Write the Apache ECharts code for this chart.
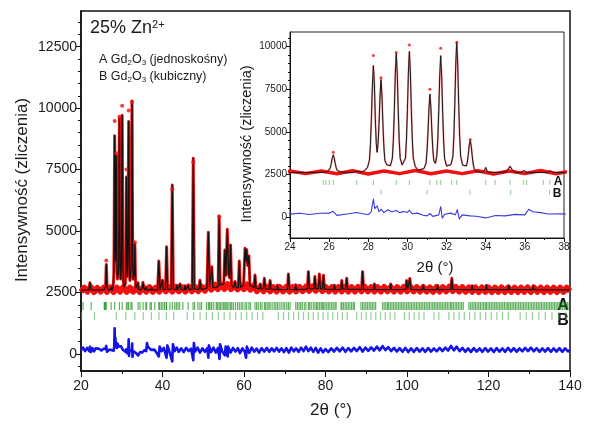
<!DOCTYPE html>
<html><head><meta charset="utf-8">
<script src="https://cdn.jsdelivr.net/npm/echarts@6/dist/echarts.min.js"></script>
<style>html,body{margin:0;padding:0;background:#fff}#c{width:600px;height:426px}</style>
</head><body><div id="c"></div><script>
// ---------- DATA ----------
// calculated profile [2theta, counts]
const calc = [
[20.0,2600],[21.9,2610],[22.2,2900],[22.5,2610],[24.0,2600],[25.0,2610],
[25.76,2621],[25.91,2652],[26.01,2725],[26.06,2881],[26.11,3141],[26.16,3463],[26.21,3640],[26.26,3463],[26.31,3141],[26.36,2881],[26.41,2725],[26.51,2652],[26.66,2621],
[27.2,2605],[27.31,2660],[27.41,2720],[27.51,2660],[27.62,2605],
[27.81,2722],[27.96,2906],[28.06,3335],[28.11,4253],[28.16,5783],[28.21,7680],[28.26,8880],[28.31,7891],[28.36,5700],[28.41,4300],[28.45,3800],[28.50,4300],[28.55,5500],[28.60,7100],[28.65,8070],
[28.70,7100],[28.75,5350],[28.80,4050],[28.85,3300],[28.95,3050],[29.05,3000],[29.13,3010],[29.23,3440],[29.28,4490],[29.33,6240],[29.38,8410],[29.43,9610],[29.48,8410],[29.53,6240],[29.58,4490],[29.63,3440],[29.73,3050],
[29.80,2980],[29.90,3453],[29.95,4520],[30.00,6297],[30.05,8501],[30.10,9710],[30.15,8501],[30.20,6297],[30.25,4520],[30.30,3453],[30.40,2955],[30.55,2742],[30.65,2720],
[30.85,2840],[30.95,3150],[31.00,3830],[31.05,4960],[31.10,6360],[31.15,7200],[31.20,6380],[31.25,5000],[31.30,3900],[31.35,3300],[31.43,3150],
[31.50,3572],[31.55,4530],[31.60,6200],[31.65,8280],[31.70,9460],[31.75,8280],[31.80,6160],[31.85,4460],[31.90,3420],[32.00,2990],[32.10,2950],
[32.22,3064],[32.32,3522],[32.37,4674],[32.42,6594],[32.47,8974],[32.52,10290],[32.57,8974],[32.62,6594],[32.67,4674],[32.72,3560],[32.82,3040],[32.91,2960],
[33.01,2990],[33.06,3218],[33.11,3668],[33.16,4230],[33.21,4500],[33.26,4160],[33.31,3578],[33.36,3108],[33.41,2826],[33.51,2694],[33.66,2638],
[33.85,2615],[33.90,2636],[33.95,2756],[34.00,2900],[34.05,2756],[34.10,2636],[34.20,2615],[34.60,2605],
[35.04,2644],[35.09,2700],[35.14,2792],[35.19,2907],[35.24,2970],[35.29,2907],[35.34,2792],[35.39,2700],[35.44,2644],[35.60,2610],
[35.80,2610],[35.90,2660],[35.95,2720],[36.00,2660],[36.10,2610],[37.15,2610],[37.30,2710],[37.45,2610],
[38.8,2610],[39.1,3780],[39.4,2610],[39.8,2620],[40.0,3000],[40.2,2620],[40.75,2630],[41.0,4360],[41.25,2630],
[42.15,2640],[42.4,6870],[42.65,2640],[43.3,2610],[43.5,2800],[43.7,2610],[44.1,2620],[44.3,2850],[44.5,2620],[45.3,2610],[45.5,2780],[45.7,2610],[46.1,2610],[46.3,2800],[46.5,2620],
[47.3,2650],[47.55,7960],[47.8,2650],[48.9,2620],[49.2,3000],[49.5,2620],
[50.9,2680],[51.25,4950],[51.55,2750],[51.85,2750],[52.1,3550],[52.35,2720],[53.0,2700],[53.65,2750],[53.9,5610],[54.15,2800],
[55.05,2850],[55.3,4230],[55.55,3200],[55.9,5070],[56.2,3300],[56.45,3100],[56.7,4430],[56.95,2800],[57.5,2700],[57.8,2950],[58.1,2700],
[58.6,2700],[58.85,3780],[59.1,2720],[59.9,2800],[60.25,4300],[60.45,3800],[60.65,4250],[60.9,3600],[61.2,3990],[61.45,2800],
[62.45,2700],[62.7,3210],[62.95,2680],[63.8,2650],[64.0,2850],[64.2,2650],[64.75,2650],[65.0,3080],[65.25,2650],[66.15,2640],[66.4,2990],[66.65,2640],
[68.0,2620],[68.2,2800],[68.4,2620],[70.65,2630],[70.9,3250],[71.15,2630],[72.5,2620],[72.7,2820],[72.9,2620],
[75.55,2640],[75.8,3350],[76.05,2650],[77.15,2660],[77.4,3150],[77.65,2660],[78.25,2660],[78.5,3250],[78.75,2660],[79.25,2650],[79.5,3200],[79.75,2640],
[82.0,2620],[82.2,2800],[82.4,2620],[83.75,2630],[84.0,2990],[84.25,2640],[84.95,2640],[85.2,3080],[85.45,2630],
[88.85,2630],[89.1,3350],[89.35,2630],[91.8,2620],[92.0,2850],[92.2,2620],[95.8,2620],[96.0,2850],[96.2,2620],
[99.65,2630],[99.9,2990],[100.15,2640],[100.45,2640],[100.7,3070],[100.95,2630],[103.8,2620],[104.0,2800],[104.2,2620],
[107.3,2620],[107.5,2800],[107.7,2620],[110.75,2630],[111.0,3080],[111.25,2630],[115.8,2620],[116.0,2780],[116.2,2620],
[119.3,2620],[119.5,2800],[119.7,2620],[124.8,2620],[125.0,2780],[125.2,2620],[130.8,2620],[131.0,2780],[131.2,2620],[140.0,2610]
];
// noisy background band of the observed data
const obsNoise = [
[20.0,2530],[20.8,2700],[21.6,2540],[22.4,2720],[23.2,2520],[24.0,2690],[24.8,2540],[25.6,2700],[26.4,2530],[27.2,2710],[28.0,2520],[28.8,2700],
[29.6,2540],[30.4,2720],[31.2,2530],[32.0,2700],[32.8,2540],[33.6,2710],[34.4,2520],[35.2,2700],[36.0,2540],[36.8,2720],[37.6,2530],[38.4,2700],
[39.2,2540],[40.0,2730],[40.8,2550],[41.6,2720],[42.4,2540],[43.2,2730],[44.0,2550],[44.8,2720],[45.6,2540],[46.4,2740],[47.2,2550],[48.0,2730],
[48.8,2560],[49.6,2740],[50.4,2580],[51.2,2800],[52.0,2620],[52.8,2820],[53.6,2640],[54.4,2830],[55.2,2650],[56.0,2840],[56.8,2640],[57.6,2820],
[58.4,2630],[59.2,2810],[60.0,2640],[60.8,2830],[61.6,2620],[62.4,2780],[63.2,2560],[64.0,2740],[64.8,2550],[65.6,2730],[66.4,2550],[67.2,2720],
[68.0,2540],[68.8,2720],[69.6,2550],[70.4,2730],[71.2,2540],[72.0,2720],[72.8,2550],[73.6,2730],[74.4,2560],[75.2,2740],[76.0,2570],[76.8,2750],
[77.6,2570],[78.4,2750],[79.2,2560],[80.0,2730],[80.8,2550],[81.6,2720],[82.4,2540],[83.2,2720],[84.0,2550],[84.8,2730],[85.6,2540],[86.4,2720],
[87.2,2540],[88.0,2730],[88.8,2550],[89.6,2740],[90.4,2550],[91.2,2720],[92.0,2540],[92.8,2720],[93.6,2540],[94.4,2730],[95.2,2550],[96.0,2720],
[96.8,2540],[97.6,2720],[98.4,2540],[99.2,2730],[100.0,2550],[100.8,2740],[101.6,2550],[102.4,2720],[103.2,2540],[104.0,2720],[104.8,2540],[105.6,2710],
[106.4,2530],[107.2,2720],[108.0,2540],[108.8,2720],[109.6,2550],[110.4,2740],[111.2,2560],[112.0,2730],[112.8,2540],[113.6,2720],[114.4,2530],[115.2,2710],
[116.0,2530],[116.8,2710],[117.6,2520],[118.4,2710],[119.2,2530],[120.0,2700],[120.8,2520],[121.6,2700],[122.4,2530],[123.2,2710],[124.0,2520],[124.8,2700],
[125.6,2530],[126.4,2700],[127.2,2520],[128.0,2700],[128.8,2530],[129.6,2710],[130.4,2520],[131.2,2700],[132.0,2530],[132.8,2700],[133.6,2520],[134.4,2700],
[135.2,2530],[136.0,2700],[136.8,2520],[137.6,2700],[138.4,2530],[139.2,2700],[140.0,2560]
];
// observed points standing above the calculated peaks
const obsPeakPoints = [[26.21,3800],[28.26,9480],[28.65,8170],[29.43,9650],[30.10,10100],[31.15,7500],[31.70,9900],[32.52,10250],[33.21,4550],[42.4,6700],[47.55,7800],[53.9,5580]];
// difference curve (obs - calc, offset)
const difference = [
[20,150],[20.5,260],[21,120],[21.5,250],[22,120],[22.2,300],[22.4,80],[22.8,240],[23.2,110],[23.6,230],[24,160],[24.5,210],[25,140],[25.5,210],
[26.0,220],[26.2,330],[26.4,90],[27,180],[27.4,260],
[28.0,130],[28.15,300],[28.26,1050],[28.33,480],[28.45,650],[28.55,300],[28.65,450],[28.8,250],[29.0,420],[29.2,300],[29.43,380],[29.6,250],
[29.8,320],[30.0,260],[30.1,380],[30.25,180],[30.5,220],[30.8,100],[31.0,60],[31.15,200],[31.3,30],[31.6,120],[31.7,600],[31.78,-80],
[31.9,150],[32.2,220],[32.45,120],[32.55,430],[32.65,-120],[32.8,120],[33.2,60],[33.5,40],[34.0,-60],[34.5,80],[35.0,60],[35.5,150],
[36.0,120],[36.2,450],[36.4,300],[36.8,250],[37.2,170],[38,180],[38.5,60],[39.1,-100],[39.3,300],[39.8,120],[40.3,250],[41.0,-150],[41.2,350],
[41.7,100],[42.4,-300],[42.55,400],[43,120],[43.5,260],[44,90],[44.6,230],[45.2,80],[45.8,250],[46.4,120],[47.0,220],[47.55,-250],[47.7,450],
[48,100],[48.6,260],[49.2,60],[49.8,230],[50.4,90],[51.0,240],[51.25,-150],[51.4,350],[51.9,80],[52.5,260],[53.1,60],[53.6,240],[54,-200],
[54.1,400],[54.7,90],[55.3,-50],[55.5,300],[56,-100],[56.1,300],[56.7,60],[57.3,250],[57.9,100],[58.5,240],[59.0,40],[59.6,230],[60.2,80],
[60.5,-150],[60.7,300],[61.3,50],[61.9,260],[62.5,100],[63.1,220],[63.7,60],[64.3,240],[65,100],[65.6,250],[66.2,90],[66.8,230],[67.4,110],
[68,250],[68.6,100],[69.2,230],[69.8,80],[70.4,240],[71,60],[71.6,260],[72.2,110],[72.8,230],[73.4,90],[74,260],[74.6,120],[75.2,300],
[75.8,120],[76.4,260],[77,90],[77.6,250],[78.2,60],[78.8,230],[79.4,70],[80,200],[80.7,80],[81.4,230],[82.1,100],[82.8,250],[83.5,110],
[84.2,260],[84.9,90],[85.6,240],[86.3,110],[87,250],[87.7,120],[88.4,280],[89.1,100],[89.8,260],[90.5,130],[91.2,270],[91.9,140],[92.6,300],
[93.3,150],[94,320],[94.7,160],[95.4,280],[96.1,120],[96.8,250],[97.5,100],[98.2,240],[98.9,90],[99.6,250],[100.3,80],[101,230],[101.7,90],
[102.4,240],[103.1,100],[103.8,230],[104.5,90],[105.2,240],[105.9,100],[106.6,230],[107.3,110],[108,250],[108.7,120],[109.4,260],[110.1,140],
[110.8,330],[111.5,150],[112.2,300],[112.9,120],[113.6,250],[114.3,90],[115,230],[115.7,80],[116.4,240],[117.1,100],[117.8,230],[118.5,90],
[119.2,240],[119.9,100],[120.6,230],[121.3,80],[122,240],[122.7,100],[123.4,230],[124.1,90],[124.8,250],[125.5,100],[126.2,240],[126.9,90],
[127.6,230],[128.3,110],[129,250],[129.7,120],[130.4,260],[131.1,110],[131.8,240],[132.5,90],[133.2,230],[133.9,100],[134.6,240],[135.3,90],
[136,230],[136.7,100],[137.4,240],[138.1,90],[138.8,230],[139.5,110],[140,170]
];
// reflection positions, phase A (monoclinic Gd2O3)
const reflA = [20.5,22.5,25.70,25.84,26.01,26.21,27.41,28.26,29.43,30.10,31.15,31.50,31.70,32.26,32.52,34.00,34.48,35.24,35.92,36.09,36.94,37.28,
38.1,39.1,39.3,39.7,40.1,40.5,40.9,41.0,41.8,42.4,43.0,43.4,43.8,44.2,45.0,46.3,47.5,47.9,48.7,
49.2,49.6,50.8,51.25,51.5,51.9,52.1,52.6,53.2,53.5,53.9,54.2,54.6,55.0,55.3,55.6,55.9,56.3,56.7,57.0,57.4,57.9,58.4,58.85,59.3,59.7,60.25,60.65,61.2,61.6,
62.7,63.1,63.5,64.0,64.4,65.0,65.3,65.7,66.1,66.4,66.9,67.4,67.8,68.2,68.6,69.1,69.6,70.0,70.5,70.9,71.3,72.7,73.1,73.5,73.9,74.3,74.8,75.2,75.8,76.1,76.5,
77.0,77.4,77.8,78.1,78.5,78.9,79.2,79.5,79.9,80.3,80.7,81.1,81.5,81.9,82.3,82.6,83.8,84.0,84.4,84.8,85.2,85.6,86.0,86.4,86.8,87.1,88.7,89.1,89.5,89.9,
90.3,90.7,91.1,91.5,91.9,92.3,94.0,94.4,94.8,95.2,95.5,95.9,96.3,96.7,97.1,97.5,97.9,98.3,98.7,99.1,99.5,99.9,100.3,100.7,101.1,101.5,101.9,102.3,102.7,
103.1,103.5,103.9,104.3,104.7,105.1,105.5,105.9,106.3,106.7,107.1,107.5,107.9,108.3,108.7,109.1,109.5,109.9,110.3,110.7,111.0,111.4,111.8,112.2,112.6,
113.0,113.4,113.8,115.2,115.6,116.0,116.4,116.8,117.2,117.6,118.0,118.4,118.8,119.2,119.5,119.9,120.3,120.7,121.1,121.5,121.9,122.3,122.7,123.1,123.5,
123.9,124.3,124.7,125.0,125.4,125.8,126.2,126.6,127.0,127.4,127.8,128.2,128.6,129.0,129.4,129.8,130.2,130.6,131.0,131.4,131.8,132.2,132.6,133.0,133.4,
133.8,134.2,134.6,135.0,135.4,135.8,136.2,136.6,137.0,137.4,137.8,138.2,138.6,139.0,139.4,139.8];
// reflection positions, phase B (cubic Gd2O3)
const reflB = [20.15,23.31,28.65,31.00,33.20,35.28,37.26,39.14,40.96,42.72,46.06,47.66,49.22,50.75,52.24,53.71,55.14,56.56,57.95,59.32,60.67,62.00,
63.32,64.62,68.44,69.70,70.94,72.17,73.39,74.61,75.81,77.01,78.21,79.40,80.59,81.78,82.96,84.14,85.32,87.66,88.83,89.99,91.16,92.33,93.50,94.68,95.85,
97.02,99.38,100.57,101.76,102.95,104.17,106.60,107.82,110.28,111.53,112.79,114.06,115.35,116.65,117.97,119.32,120.67,122.05,123.44,124.86,127.77,
129.27,130.79,132.35,133.94,135.58,137.27,139.01];
// axis tick values
const mainYLabels = [0,2500,5000,7500,10000,12500];
const mainYMinor = [-500,500,1000,1500,2000,3000,3500,4000,4500,5500,6000,6500,7000,8000,8500,9000,9500,10500,11000,11500,12000,13000,13500];
const insetYLabels = [0,2500,5000,7500,10000];
const insetYMinor = [-1000,-500,500,1000,1500,2000,3000,3500,4000,4500,5500,6000,6500,7000,8000,8500,9000,9500,10500];

// ---------- CHART ----------
const FONT = '"Liberation Sans", Arial, Helvetica, sans-serif';
const TXT = '#1a1a1a';
const chart = echarts.init(document.getElementById('c'), null, {renderer:'canvas', width:600, height:426});

function lineS(data, xi, yi, color, width, z) {
  return {type:'line', xAxisIndex:xi, yAxisIndex:yi, data:data, showSymbol:false, symbol:'none',
    lineStyle:{color:color, width:width, join:'round'}, z:z, animation:false, silent:true, clip:true};
}
function dotS(data, xi, yi, color, size, z) {
  return {type:'scatter', xAxisIndex:xi, yAxisIndex:yi, data:data, symbol:'circle', symbolSize:size,
    itemStyle:{color:color}, z:z, animation:false, silent:true, clip:true};
}
function tickS(pos, level, xi, yi, color, size, z) {
  return {type:'scatter', xAxisIndex:xi, yAxisIndex:yi, data:pos.map(p => [p, level]), symbol:'rect', symbolSize:size,
    itemStyle:{color:color}, z:z, animation:false, silent:true, clip:true};
}
function yAx(grid, min, max, labels, minor, fs, tickLen, minorLen, isMinor) {
  return {type:'value', gridIndex:grid, min:min, max:max, position:'left',
    axisLine:{show:!isMinor, onZero:false, lineStyle:{color:'#111', width: grid===0?1.5:1}},
    axisTick:{show:true, inside:false, length: isMinor?minorLen:tickLen, customValues: isMinor?minor:labels, lineStyle:{color:'#111', width:1}},
    axisLabel:{show:!isMinor, customValues:labels, formatter: v => String(v), fontSize:fs, color:TXT, fontFamily:FONT, margin: grid===0?4:3},
    splitLine:{show:false}};
}

const option = {
  backgroundColor:'#fff',
  animation:false,
  grid:[
    {left:81, top:11, width:489, height:360, show:true, borderColor:'#111', borderWidth:1.5, backgroundColor:'transparent'},
    {left:290, top:32, width:274, height:206, show:true, borderColor:'#222', borderWidth:1, backgroundColor:'#fff'}
  ],
  xAxis:[
    {type:'value', gridIndex:0, min:20, max:140, interval:20,
      axisLine:{onZero:false, lineStyle:{color:'#111', width:1.5}},
      axisTick:{length:6, lineStyle:{color:'#111', width:1}},
      minorTick:{show:true, splitNumber:2, length:3, lineStyle:{color:'#111'}},
      axisLabel:{fontSize:14, color:TXT, fontFamily:FONT, margin:8},
      splitLine:{show:false}, minorSplitLine:{show:false}},
    {type:'value', gridIndex:1, min:24, max:38, interval:2,
      axisLine:{onZero:false, lineStyle:{color:'#111', width:1}},
      axisTick:{length:4, lineStyle:{color:'#111', width:1}},
      minorTick:{show:true, splitNumber:2, length:2, lineStyle:{color:'#111'}},
      axisLabel:{fontSize:10, color:TXT, fontFamily:FONT, margin:4},
      splitLine:{show:false}, minorSplitLine:{show:false}}
  ],
  yAxis:[
    yAx(0, -690, 13950, mainYLabels, mainYMinor, 14, 5, 3, false),
    yAx(0, -690, 13950, mainYLabels, mainYMinor, 14, 5, 3, true),
    yAx(1, -1240, 10860, insetYLabels, insetYMinor, 10, 4, 2, false),
    yAx(1, -1240, 10860, insetYLabels, insetYMinor, 10, 4, 2, true)
  ],
  series:[
    // main plot
    lineS(obsNoise, 0, 0, '#f01010', 6, 2),
    lineS(calc, 0, 0, '#f01010', 3, 3),
    lineS(calc, 0, 0, '#111', 1.2, 4),
    dotS(obsPeakPoints, 0, 0, '#f01010', 4, 5),
    lineS(difference, 0, 0, '#1414e6', 2.6, 3),
    tickS(reflA, 1950, 0, 0, 'rgba(20,140,20,0.85)', [1.2, 8], 3),
    tickS(reflB, 1550, 0, 0, 'rgba(80,175,80,0.75)', [1.2, 8], 3),
    // inset
    lineS(obsNoise, 1, 2, '#f01010', 3.5, 2),
    lineS(calc, 1, 2, 'rgba(240,16,16,0.45)', 1.8, 3),
    lineS(calc, 1, 2, '#1a1a1a', 1, 4),
    dotS(obsPeakPoints, 1, 2, '#f01010', 3, 5),
    lineS(difference, 1, 2, '#3a3ae6', 1.1, 3),
    tickS(reflA, 2020, 1, 2, 'rgba(90,180,90,0.85)', [1, 5], 3),
    tickS(reflB, 1450, 1, 2, 'rgba(90,180,90,0.85)', [1, 5], 3)
  ],
  graphic:[
    {type:'text', x:90, y:28, style:{text:'{a|25% Zn}{s|2+}', verticalAlign:'middle',
      rich:{a:{fontSize:18, fontFamily:FONT, fill:TXT}, s:{fontSize:11, fontFamily:FONT, fill:TXT, verticalAlign:'top'}}}},
    {type:'text', x:99, y:60, style:{text:'{n|A Gd}{s|2}{n|O}{s|3}{n| (jednoskośny)}', verticalAlign:'middle',
      rich:{n:{fontSize:12.5, fontFamily:FONT, fill:TXT}, s:{fontSize:8, fontFamily:FONT, fill:TXT, verticalAlign:'bottom'}}}},
    {type:'text', x:99, y:77, style:{text:'{n|B Gd}{s|2}{n|O}{s|3}{n| (kubiczny)}', verticalAlign:'middle',
      rich:{n:{fontSize:12.5, fontFamily:FONT, fill:TXT}, s:{fontSize:8, fontFamily:FONT, fill:TXT, verticalAlign:'bottom'}}}},
    {type:'text', x:22, y:190, rotation:Math.PI/2, style:{text:'Intensywność (zliczenia)', fontSize:17, fontFamily:FONT, fill:TXT, align:'center', verticalAlign:'middle'}},
    {type:'text', x:331, y:410, style:{text:'2θ (°)', fontSize:17, fontFamily:FONT, fill:TXT, align:'center', verticalAlign:'middle'}},
    {type:'text', x:247, y:144, rotation:Math.PI/2, style:{text:'Intensywność (zliczenia)', fontSize:14.5, fontFamily:FONT, fill:TXT, align:'center', verticalAlign:'middle'}},
    {type:'text', x:435, y:268, style:{text:'2θ (°)', fontSize:15, fontFamily:FONT, fill:TXT, align:'center', verticalAlign:'middle'}},
    {type:'text', x:563, y:306, style:{text:'A', fontSize:16, fontWeight:'bold', fontFamily:FONT, fill:'#111', align:'center', verticalAlign:'middle'}},
    {type:'text', x:563, y:321, style:{text:'B', fontSize:16, fontWeight:'bold', fontFamily:FONT, fill:'#111', align:'center', verticalAlign:'middle'}},
    {type:'text', x:558, y:182, style:{text:'A', fontSize:12, fontWeight:'bold', fontFamily:FONT, fill:'#111', align:'center', verticalAlign:'middle'}},
    {type:'text', x:557, y:194, style:{text:'B', fontSize:12, fontWeight:'bold', fontFamily:FONT, fill:'#111', align:'center', verticalAlign:'middle'}}
  ]
};
chart.setOption(option);
</script></body></html>
